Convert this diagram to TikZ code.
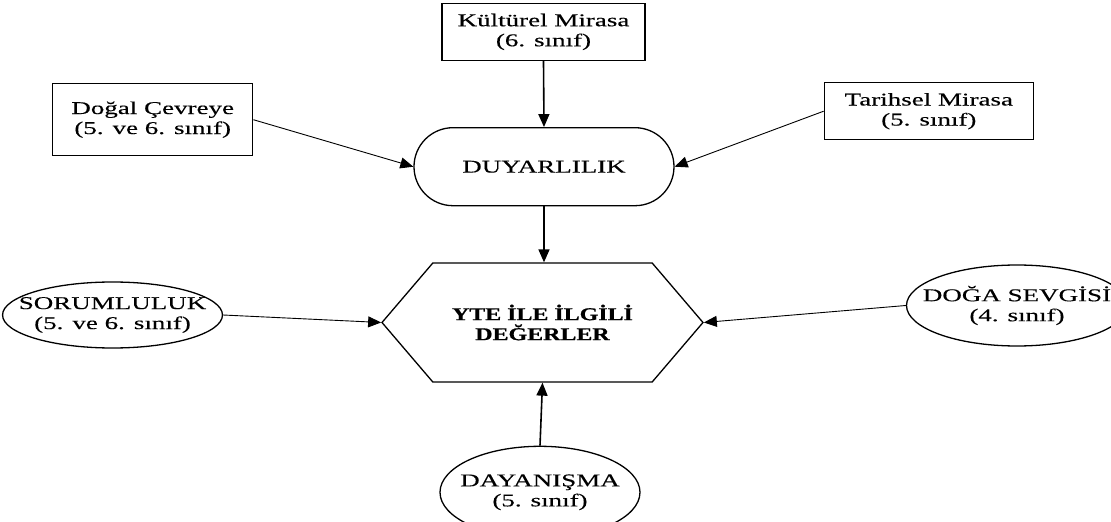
\documentclass[tikz,border=0pt]{standalone}
\usepackage{fontspec}
\setmainfont{Liberation Serif}[FakeStretch=1.5,FakeBold=0.3,BoldFeatures={FakeStretch=1.33,FakeBold=0.8}]
\usetikzlibrary{arrows.meta,positioning}
\usetikzlibrary{shapes.geometric,shapes.misc,shapes.symbols}
\tikzset{
	%Define standard arrow tip
	>={Triangle[length=13pt,width=11pt]},
	%Define style for boxes
	kutu/.style={
		rectangle,
		draw=black, line width=1.3pt,
		inner sep=2pt,
		align=center,
		font=\fontsize{18pt}{20pt}\selectfont},
	% Define style for ellipses
	elips/.style={
		kutu,
		ellipse,
		inner xsep=-16pt, inner ysep=0pt},
	% Define style for the stadium
	kapsul/.style={
		kutu,
		rounded rectangle},
	% Define style for the hexagon
	altigen/.style={
		kutu,
		signal, signal to=east and west, signal from=nowhere,
		signal pointer angle=99,
		font=\fontsize{18pt}{20pt}\selectfont\bfseries},
	% Define arrow style
	ok/.style={
		->,
		line width=0.9pt},
	kalinok/.style={
		->,
		line width=1.6pt}
}

\begin{document}
\begin{tikzpicture}[node distance=1cm, auto,]

	\useasboundingbox (-542.5pt,-199.5pt) rectangle (568.5pt,322.5pt);

	\node[altigen, minimum width=321pt, minimum height=119pt] (yte) {YTE İLE İLGİLİ\\DEĞERLER};
	\node[kapsul, above =56pt of yte, xshift=1.5pt, minimum width=264pt, minimum height=78pt] (duyar) {DUYARLILIK};
	\node[kutu, above =66pt of duyar, xshift=-0.5pt, minimum width=203pt, minimum height=57pt] (kultur) {Kültürel Mirasa\\(6. sınıf)};
	\node[kutu, left =160pt of duyar, yshift=47pt, minimum width=200pt, minimum height=72pt] (dogal) {Doğal Çevreye\\(5. ve 6. sınıf)};
	\node[kutu, right =149pt of duyar, yshift=55.5pt, minimum width=209pt, minimum height=57pt] (tarih) {Tarihsel Mirasa\\(5. sınıf)};
	\node[elips, left =158pt of yte, yshift=7.5pt, minimum width=217pt, minimum height=66pt] (sorum) {SORUMLULUK\\(5. ve 6. sınıf)};
	\node[elips, right =202pt of yte, yshift=17pt, minimum width=205pt, minimum height=81pt] (doga) {DOĞA SEVGİSİ\\(4. sınıf)};
	\node[elips, below =63pt of yte, xshift=-2.5pt, minimum width=200pt, minimum height=92pt] (dayan) {DAYANIŞMA\\(5. sınıf)};

	\draw[kalinok] (kultur.south) -- (duyar.north);
	\draw[kalinok] (duyar.south) -- (yte.north -| duyar.south);
	\draw[ok] (dogal.east) -- (duyar.west);
	\draw[ok] (tarih.west) -- (duyar.east);
	\draw[ok] (sorum.east) -- (yte.west);
	\draw[ok] (doga.west) -- (yte.east);
	\draw[kalinok] (dayan.north) -- (yte.south);

\end{tikzpicture}
\end{document}
